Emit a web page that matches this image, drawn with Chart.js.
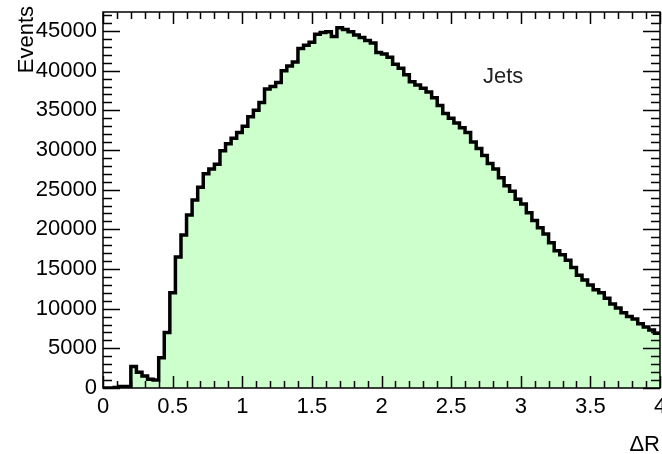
<!DOCTYPE html>
<html>
<head>
<meta charset="utf-8">
<script src="https://cdn.jsdelivr.net/npm/chart.js@4.4.0/dist/chart.umd.min.js"></script>
<style>
    html, body { margin: 0; padding: 0; background: #fff; }
    .wrap { width: 662px; height: 454px; }
</style>
</head>
<body>
<div class="wrap"><canvas id="myChart" width="662" height="454"></canvas></div>
<script>
// histogram range and bin contents (100 bins of 0.04)
const xMin = 0
const xMax = 4
const events = [
    0, 0, 50, 200, 200, 2700, 2000, 1500, 1100, 1000,
    3800, 7000, 12000, 16500, 19300, 21800, 23700, 25300, 27000, 27600,
    28200, 29900, 30800, 31500, 32200, 33000, 34200, 35000, 36000, 37700,
    38000, 38500, 40000, 40600, 41100, 42800, 43200, 43600, 44600, 44800,
    44900, 44300, 45400, 45200, 44900, 44500, 44200, 43800, 43500, 42300,
    42100, 41700, 40800, 40300, 39500, 38600, 38200, 37800, 37300, 36600,
    35600, 34600, 34000, 33400, 32800, 32200, 31000, 30200, 29300, 28300,
    27600, 26500, 25500, 24800, 23800, 23200, 22100, 21100, 20200, 19400,
    18300, 17300, 16800, 16100, 15200, 14200, 13600, 13000, 12400, 12000,
    11300, 10600, 10100, 9500, 9000, 8700, 8100, 7700, 7300, 6900
]
const yTicks = [0, 5000, 10000, 15000, 20000, 25000, 30000, 35000, 40000, 45000]
const xTicks = [0, 0.5, 1, 1.5, 2, 2.5, 3, 3.5, 4]
const yMax = 47400

const fontFamily = '"Liberation Sans", Arial, sans-serif'
const labelFont = '22px ' + fontFamily

// step points at the lower edge of every bin, plus the closing edge
const binWidth = (xMax - xMin) / events.length
const points = events.map((v, i) => ({ x: xMin + i * binWidth, y: v }))
points.push({ x: xMax, y: events[events.length - 1] })

// ROOT style frame with inner ticks on all four sides
const frame = {
    id: 'frame',
    afterDatasetsDraw(chart) {
        const { ctx, chartArea: a, scales } = chart
        const xs = scales.x
        const ys = scales.y
        ctx.save()
        ctx.strokeStyle = '#000'
        ctx.lineWidth = 1.5
        ctx.strokeRect(a.left, a.top, a.right - a.left, a.bottom - a.top)

        ctx.beginPath()
        for (let v = 0; v <= yMax; v += 1000) {
            const y = Math.round(ys.getPixelForValue(v)) + 0.5
            const len = v % 5000 === 0 ? 17 : 9
            ctx.moveTo(a.left, y)
            ctx.lineTo(a.left + len, y)
            ctx.moveTo(a.right, y)
            ctx.lineTo(a.right - len, y)
        }
        for (let i = 0; i <= 40; i++) {
            const x = Math.round(xs.getPixelForValue(i / 10)) + 0.5
            const len = i % 5 === 0 ? 12 : 7
            ctx.moveTo(x, a.bottom)
            ctx.lineTo(x, a.bottom - len)
            ctx.moveTo(x, a.top)
            ctx.lineTo(x, a.top + len)
        }
        ctx.stroke()

        ctx.fillStyle = '#000'
        ctx.font = labelFont
        ctx.textAlign = 'right'
        ctx.textBaseline = 'alphabetic'
        ctx.fillText('ΔR', 660, 451)

        ctx.fillStyle = '#222'
        ctx.textAlign = 'left'
        ctx.fillText('Jets', 483, 83)

        ctx.fillStyle = '#000'
        ctx.translate(33, 6)
        ctx.rotate(-Math.PI / 2)
        ctx.textAlign = 'right'
        ctx.fillText('Events', 0, 0)
        ctx.restore()
    }
}

const ctx = document.getElementById('myChart')

const myChart = new Chart(ctx, {
    type: 'line',
    data: {
        datasets: [{
            label: 'Jets',
            data: points,
            stepped: 'before',
            borderColor: '#000',
            borderWidth: 3.5,
            backgroundColor: '#ccffcc',
            fill: 'origin',
            pointRadius: 0,
            tension: 0
        }]
    },
    options: {
        responsive: false,
        devicePixelRatio: 1,
        animation: false,
        layout: { padding: { left: 0, right: 2, top: 12, bottom: 0 } },
        plugins: {
            legend: { display: false },
            tooltip: { enabled: false }
        },
        scales: {
            x: {
                type: 'linear',
                min: xMin,
                max: xMax,
                grid: { display: false, drawTicks: false },
                border: { display: false },
                afterBuildTicks: s => { s.ticks = xTicks.map(v => ({ value: v })) },
                afterFit: s => {
                    s.height = 66
                    s.paddingLeft = 0
                    s.paddingRight = 0
                },
                ticks: {
                    padding: 6,
                    color: '#000',
                    maxRotation: 0,
                    autoSkip: false,
                    font: { family: fontFamily, size: 22 },
                    callback: v => String(v)
                }
            },
            y: {
                min: 0,
                max: yMax,
                grid: { display: false, drawTicks: false },
                border: { display: false },
                afterBuildTicks: s => { s.ticks = yTicks.map(v => ({ value: v })) },
                afterFit: s => {
                    s.width = 103
                    s.paddingTop = 0
                    s.paddingBottom = 0
                },
                ticks: {
                    padding: 6,
                    color: '#000',
                    autoSkip: false,
                    font: { family: fontFamily, size: 22 },
                    callback: v => String(v)
                }
            }
        }
    },
    plugins: [frame]
})
</script>
</body>
</html>
